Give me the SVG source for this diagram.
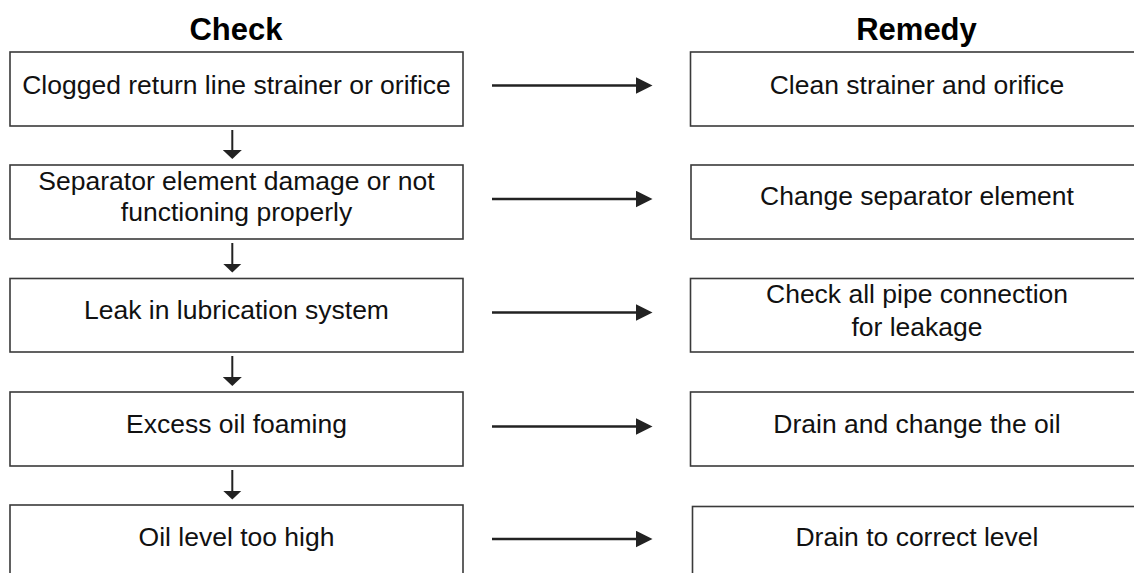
<svg xmlns="http://www.w3.org/2000/svg" width="1134" height="573" viewBox="0 0 1134 573">
<style>
.box{fill:#fff;stroke:#3a3a3a;stroke-width:1.6}
.t{font-family:"Liberation Sans",Arial,Helvetica,sans-serif;font-size:26.5px;fill:#111;text-anchor:middle}
.h{font-family:"Liberation Sans",Arial,Helvetica,sans-serif;font-size:31px;font-weight:bold;fill:#000;text-anchor:middle}
.ha{stroke:#222;stroke-width:2.6;fill:none}
.va{stroke:#222;stroke-width:2;fill:none}
</style>
<defs>
<marker id="ah" viewBox="0 0 17 17" markerWidth="17" markerHeight="17" refX="0.5" refY="8.5" orient="auto" markerUnits="userSpaceOnUse">
<path d="M0,0 L17,8.5 L0,17 z" fill="#222"/>
</marker>
<marker id="av" viewBox="0 0 9 19" markerWidth="9" markerHeight="19" refX="0.5" refY="9.5" orient="auto" markerUnits="userSpaceOnUse">
<path d="M0,0 L9,9.5 L0,19 z" fill="#222"/>
</marker>
</defs>
<rect width="1134" height="573" fill="#fff"/>
<text class="h" x="236" y="40">Check</text>
<text class="h" x="916.5" y="40">Remedy</text>

<g id="check1"><rect class="box" x="10" y="52" width="453" height="74"/><text class="t" x="236.5" y="94">Clogged return line strainer or orifice</text></g>
<g id="check2"><rect class="box" x="10" y="165" width="453" height="74"/><text class="t" x="236.5" y="190">Separator element damage or not</text><text class="t" x="236.5" y="221">functioning properly</text></g>
<g id="check3"><rect class="box" x="10" y="278.5" width="453" height="73.5"/><text class="t" x="236.5" y="319">Leak in lubrication system</text></g>
<g id="check4"><rect class="box" x="10" y="392" width="453" height="74"/><text class="t" x="236.5" y="433">Excess oil foaming</text></g>
<g id="check5"><rect class="box" x="10" y="505" width="453" height="80"/><text class="t" x="236.5" y="546">Oil level too high</text></g>

<g id="remedy1"><rect class="box" x="690.5" y="52" width="453" height="74"/><text class="t" x="917" y="94">Clean strainer and orifice</text></g>
<g id="remedy2"><rect class="box" x="691" y="165" width="453" height="74"/><text class="t" x="917" y="205">Change separator element</text></g>
<g id="remedy3"><rect class="box" x="690.5" y="278.5" width="453" height="73.5"/><text class="t" x="917" y="303">Check all pipe connection</text><text class="t" x="917" y="335.5">for leakage</text></g>
<g id="remedy4"><rect class="box" x="690.5" y="392" width="453" height="74"/><text class="t" x="917" y="433">Drain and change the oil</text></g>
<g id="remedy5"><rect class="box" x="692.5" y="506.5" width="453" height="80"/><text class="t" x="917" y="546">Drain to correct level</text></g>

<g id="connectors">
<line class="ha" x1="492" y1="85.5" x2="636" y2="85.5" marker-end="url(#ah)"/>
<line class="ha" x1="492" y1="199" x2="636" y2="199" marker-end="url(#ah)"/>
<line class="ha" x1="492" y1="312.5" x2="636" y2="312.5" marker-end="url(#ah)"/>
<line class="ha" x1="492" y1="426.5" x2="636" y2="426.5" marker-end="url(#ah)"/>
<line class="ha" x1="492" y1="539" x2="636" y2="539" marker-end="url(#ah)"/>
<line class="va" x1="232.3" y1="130" x2="232.3" y2="150.5" marker-end="url(#av)"/>
<line class="va" x1="232.3" y1="243" x2="232.3" y2="264" marker-end="url(#av)"/>
<line class="va" x1="232.3" y1="356" x2="232.3" y2="377.5" marker-end="url(#av)"/>
<line class="va" x1="232.3" y1="470" x2="232.3" y2="491" marker-end="url(#av)"/>
</g>
</svg>
